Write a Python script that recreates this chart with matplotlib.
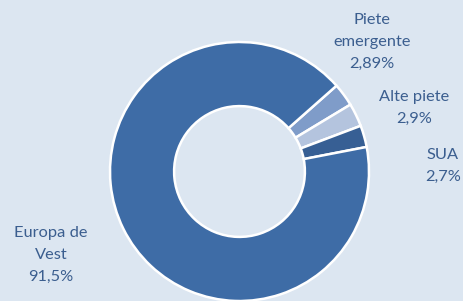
import matplotlib
matplotlib.use("Agg")
import matplotlib.pyplot as plt

categories = ["Piete\nemergente", "Alte piete", "SUA", "Europa de\nVest"]
values = [2.89, 2.9, 2.7, 91.5]
colors = ["#7f9cc9", "#b4c4de", "#375f94", "#3e6ca6"]
label_pos = [(372, 42), (414, 108), (443, 166), (51, 255)]

W, H = 464, 301
fig = plt.figure(figsize=(W / 100, H / 100), dpi=100)
fig.patch.set_facecolor("#dce6f1")

cx, cy, r = 239.5, 171.5, 129.5
ax2 = fig.add_axes([0, 0, 1, 1])
ax2.set_facecolor("#dce6f1")
ax2.axis("off")
ax2.pie(values, colors=colors, startangle=41.5, counterclock=False,
        radius=r, center=(cx, H - cy), normalize=True,
        wedgeprops=dict(width=r * 0.495, edgecolor="white", linewidth=1.8))
ax2.set_aspect("equal")
ax2.set_xlim(0, W)
ax2.set_ylim(0, H)

for name, v, (x, y) in zip(categories, values, label_pos):
    txt = name + "\n" + (f"{v:g}".replace(".", ",")) + "%"
    ax2.text(x, H - y, txt, ha="center", va="center", fontsize=11.8,
             family="Lato", color="#3b5e8f", linespacing=1.72)

fig.savefig("out.png", dpi=100, facecolor=fig.get_facecolor())
